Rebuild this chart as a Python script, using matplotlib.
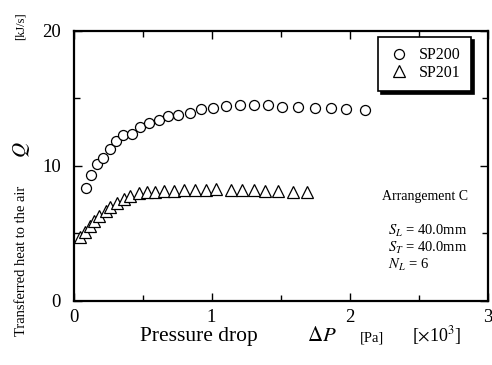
import matplotlib
matplotlib.use('Agg')
import matplotlib.pyplot as plt
from matplotlib.ticker import MultipleLocator

# Dados (ΔP em 10^3 Pa, Q em kJ/s)
sp200_dp = [0.094, 0.128, 0.167, 0.215, 0.263, 0.309, 0.357, 0.422, 0.483, 0.549,
            0.616, 0.686, 0.759, 0.843, 0.925, 1.012, 1.105, 1.205, 1.307, 1.408,
            1.514, 1.625, 1.751, 1.867, 1.978, 2.109]
sp200_q = [8.36, 9.27, 10.11, 10.58, 11.24, 11.84, 12.28, 12.33, 12.83, 13.13,
           13.37, 13.67, 13.74, 13.87, 14.21, 14.24, 14.41, 14.46, 14.46, 14.50,
           14.31, 14.31, 14.24, 14.24, 14.19, 14.11]

sp201_dp = [0.046, 0.080, 0.118, 0.147, 0.183, 0.232, 0.268, 0.317, 0.365, 0.413,
            0.473, 0.534, 0.594, 0.654, 0.727, 0.799, 0.884, 0.957, 1.029, 1.138,
            1.222, 1.307, 1.391, 1.480, 1.592, 1.693]
sp201_q = [4.68, 5.10, 5.52, 5.91, 6.26, 6.65, 6.90, 7.24, 7.50, 7.74,
           7.99, 8.06, 8.06, 8.09, 8.13, 8.19, 8.16, 8.19, 8.24, 8.19,
           8.19, 8.16, 8.13, 8.11, 8.06, 8.01]

x_ticks = [0, 1, 2, 3]
y_ticks = [0, 10, 20]

plt.rcParams['font.family'] = ['Liberation Serif', 'DejaVu Serif']
plt.rcParams['mathtext.fontset'] = 'stix'

W, H = 492, 365
fig = plt.figure(figsize=(W / 100, H / 100), dpi=100)
ax = fig.add_axes([73.5 / W, 1 - 300.5 / H, (487.5 - 73.5) / W, (300.5 - 30.5) / H])

ax.plot(sp200_dp, sp200_q, linestyle='none', marker='o', markersize=7.2,
        markerfacecolor='white', markeredgecolor='black', markeredgewidth=0.9,
        label='SP200', clip_on=False)
ax.plot(sp201_dp, sp201_q, linestyle='none', marker='^', markersize=8.5,
        markerfacecolor='white', markeredgecolor='black', markeredgewidth=0.9,
        label='SP201', clip_on=False)

ax.set_xlim(0, 3)
ax.set_ylim(0, 20)
ax.set_xticks(x_ticks)
ax.set_yticks(y_ticks)
ax.xaxis.set_minor_locator(MultipleLocator(0.5))
ax.yaxis.set_minor_locator(MultipleLocator(5))
ax.tick_params(which='both', direction='in', top=True, right=True, labelsize=13.5)
ax.tick_params(axis='x', pad=6)
ax.tick_params(axis='y', pad=9)
ax.tick_params(which='major', length=6, width=1)
ax.tick_params(which='minor', length=4, width=1)
for s in ax.spines.values():
    s.set_linewidth(1.6)

leg = ax.legend(loc='upper right', bbox_to_anchor=(471 / W, 1 - 37 / H),
                bbox_transform=fig.transFigure, frameon=True, fancybox=False,
                edgecolor='black', fontsize=11.5, handletextpad=0.6,
                borderpad=0.65, labelspacing=0.1, handlelength=1.3,
                borderaxespad=0,
                shadow={'color': 'black', 'alpha': 1})
leg.get_frame().set_linewidth(1.2)

# Textos do eixo y
fx = lambda px: px / W
fy = lambda py: 1 - py / H
fig.text(fx(22), fy(261), 'Transferred heat to the air', rotation=90,
         fontsize=10.5, ha='center', va='center')
fig.text(fx(22), fy(150), '$Q$', rotation=90, fontsize=15, ha='center', va='center')
fig.text(fx(21), fy(26), '[kJ/s]', rotation=90, fontsize=9, ha='center', va='center')

# Textos do eixo x
fig.text(fx(140), fy(341), 'Pressure drop', fontsize=15.5, ha='left', va='baseline')
fig.text(fx(307), fy(341), r'$\Delta P$', fontsize=15, ha='left', va='baseline')
fig.text(fx(360), fy(341), '[Pa]', fontsize=10.5, ha='left', va='baseline')
fig.text(fx(412), fy(341), r'[$\times$10$^3$]', fontsize=13, ha='left', va='baseline')

# Anotações
fig.text(fx(382), fy(200), 'Arrangement C', fontsize=10, ha='left', va='baseline')
fig.text(fx(388), fy(235), r'$S_L$ = 40.0mm', fontsize=10.5, ha='left', va='baseline')
fig.text(fx(388), fy(252), r'$S_T$ = 40.0mm', fontsize=10.5, ha='left', va='baseline')
fig.text(fx(388), fy(269), r'$N_L$ = 6', fontsize=10.5, ha='left', va='baseline')

plt.savefig('out.png', dpi=100)
